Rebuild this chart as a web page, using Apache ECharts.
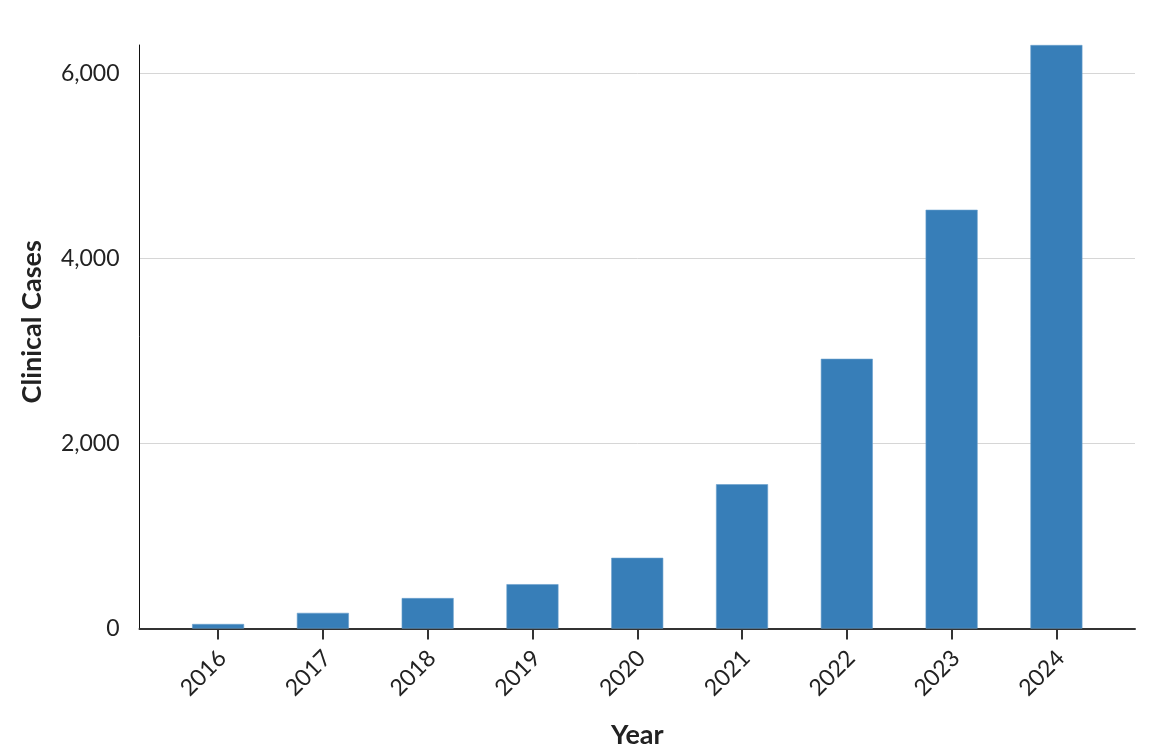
<!DOCTYPE html>
<html>
<head>
<meta charset="utf-8">
<script src="https://cdn.jsdelivr.net/npm/echarts@6/dist/echarts.min.js"></script>
<style>
html,body{margin:0;padding:0;background:#fff;}
#chart{width:1158px;height:756px;}
</style>
</head>
<body>
<div id="chart"></div>
<script>
const categories = ['2016','2017','2018','2019','2020','2021','2022','2023','2024'];
const cases = [50, 170, 330, 480, 765, 1560, 2915, 4525, 6305];
const yTicks = [0, 2000, 4000, 6000];

const positions = categories.map((c, i) => i);
const barData = cases.map((v, i) => [positions[i], v]);
const FONT = 'Lato, "Nunito Sans", "Open Sans", sans-serif';

const chart = echarts.init(document.getElementById('chart'));
chart.setOption({
  animation: false,
  backgroundColor: '#fff',
  grid: { left: 139.5, right: 23, top: 45, bottom: 127.4, containLabel: false },
  xAxis: {
    type: 'value',
    min: -0.75,
    max: categories.length - 0.25,
    name: 'Year',
    nameLocation: 'middle',
    nameGap: 93,
    nameTextStyle: { fontFamily: FONT, fontSize: 27, fontWeight: 'bold', color: '#222' },
    axisLine: { show: true, onZero: false, lineStyle: { color: '#333', width: 2 } },
    axisTick: { show: true, length: 11, lineStyle: { color: '#333', width: 2 }, customValues: positions },
    axisLabel: {
      customValues: positions,
      rotate: 45,
      margin: 30,
      padding: [0, -6, 0, 0],
      fontFamily: FONT, fontSize: 23, color: '#222',
      formatter: v => categories[Math.round(v)]
    },
    splitLine: { show: false }
  },
  yAxis: {
    type: 'value',
    min: 0,
    max: 'dataMax',
    interval: 2000,
    name: 'Clinical Cases',
    nameLocation: 'middle',
    nameGap: 94,
    nameRotate: 90,
    nameTextStyle: { fontFamily: FONT, fontSize: 27, fontWeight: 'bold', color: '#222', padding: [0, 0, 0, 30] },
    axisLine: { show: true, onZero: false, lineStyle: { color: '#111', width: 1 } },
    axisTick: { show: false },
    axisLabel: {
      margin: 20,
      fontFamily: FONT, fontSize: 23, color: '#222',
      showMaxLabel: false,
      formatter: v => yTicks.includes(v) ? v.toLocaleString('en-US') : ''
    },
    splitLine: { show: true, showMinLine: false, showMaxLine: false, lineStyle: { color: '#d6d6d6', width: 1 } }
  },
  series: [{
    type: 'bar',
    data: barData,
    barWidth: 52,
    itemStyle: { color: '#377eb8', borderColor: '#6a9fcc', borderWidth: 0.6 }
  }]
});
</script>
</body>
</html>
